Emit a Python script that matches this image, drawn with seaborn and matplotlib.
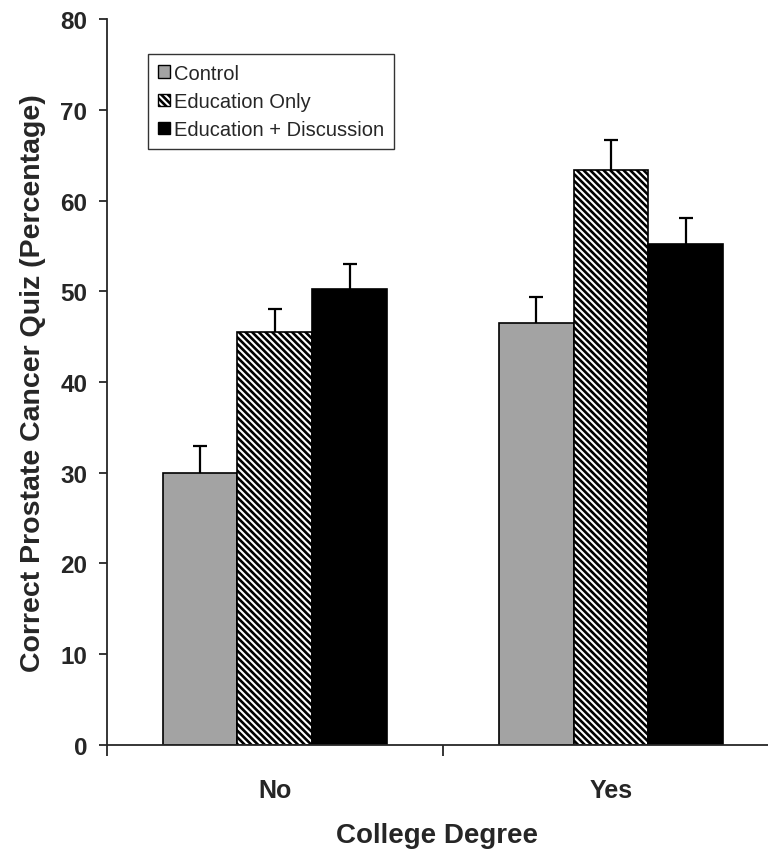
import numpy as np
import pandas as pd
import matplotlib
matplotlib.use("Agg")
import matplotlib.pyplot as plt
import seaborn as sns
from matplotlib.patches import Patch

degree = ["No", "Yes"]
conditions = ["Control", "Education Only", "Education + Discussion"]
means_no = [30.0, 45.5, 50.3]
means_yes = [46.5, 63.4, 55.2]
err_no = [2.9, 2.5, 2.7]
err_yes = [2.9, 3.3, 2.9]

df = pd.DataFrame({
    "degree": np.repeat(degree, len(conditions)),
    "condition": conditions * len(degree),
    "score": means_no + means_yes,
    "err": err_no + err_yes,
})

sns.set_style("ticks")
plt.rcParams["font.family"] = ["Liberation Sans", "DejaVu Sans"]
plt.rcParams["hatch.linewidth"] = 1.9

face = {"Control": "#a3a3a3", "Education Only": "white", "Education + Discussion": "black"}
hatch = {"Control": "", "Education Only": "\\\\\\\\\\", "Education + Discussion": ""}

fig = plt.figure(figsize=(7.68, 8.54), dpi=100)
ax = fig.add_axes([0.139, 0.1265, 0.861, 0.85])

sns.barplot(data=df, x="degree", y="score", hue="condition", hue_order=conditions,
            palette=face, width=0.667, errorbar=None, edgecolor="black",
            linewidth=1.2, legend=False, ax=ax)

# style bars and add upper-only error bars
for cont, cond in zip(ax.containers, conditions):
    for bar in cont:
        bar.set_hatch(hatch[cond])
        bar.set_edgecolor("black")
    xs = [b.get_x() + b.get_width() / 2 for b in cont]
    sub = df[df.condition == cond]
    _, caps, _ = ax.errorbar(xs, sub.score.values,
                             yerr=[np.zeros(len(sub)), sub.err.values],
                             fmt="none", ecolor="black", elinewidth=1.6,
                             capsize=4.8, capthick=1.6, zorder=3)
    for c in caps:
        if np.allclose(c.get_ydata(), sub.score.values):
            c.set_visible(False)

ax.set_ylim(0, 80)
ax.set_yticks(range(0, 81, 10))
ax.set_xlim(-0.5, 1.467)
ax.set_xticks([-0.5, 0.5])
ax.set_xticklabels([])
ax.set_xticks([0, 1], minor=True)
ax.set_xticklabels(degree, minor=True, fontsize=18, fontweight="bold")
ax.tick_params(axis="x", which="major", direction="out", length=8, width=1.3)
ax.tick_params(axis="x", which="minor", length=0, pad=24)
ax.tick_params(axis="y", direction="out", length=6, width=1.3, labelsize=17.5, pad=8)
for t in ax.get_yticklabels():
    t.set_fontweight("bold")

ax.set_xlabel("College Degree", fontsize=20, fontweight="bold", labelpad=14)
ax.set_ylabel("Correct Prostate Cancer Quiz (Percentage)", fontsize=20.5,
              fontweight="bold", labelpad=10)

sns.despine(ax=ax)
for s in ["left", "bottom"]:
    ax.spines[s].set_linewidth(1.3)

handles = [Patch(facecolor=face[c], edgecolor="black", hatch=hatch[c], linewidth=1.0)
           for c in conditions]
leg = ax.legend(handles, conditions, loc="upper left", bbox_to_anchor=(0.062, 0.952),
                fontsize=14.5, frameon=True, fancybox=False, edgecolor="black",
                handlelength=0.6, handleheight=0.6, handletextpad=0.2,
                labelspacing=0.45, borderpad=0.5, borderaxespad=0)
leg.get_frame().set_linewidth(1.0)

fig.savefig("out.png", dpi=100)
